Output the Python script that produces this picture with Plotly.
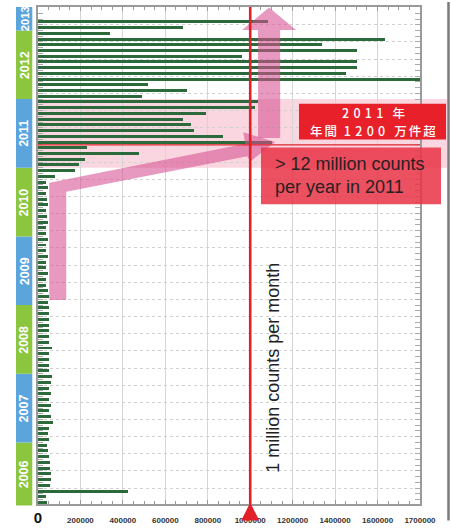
import re
import plotly.graph_objects as go

# Monthly counts, February 2006 through February 2013
start_year, start_month = 2006, 2
counts = [
    # 2006 (Feb-Dec)
    44000, 38000, 426000, 56000, 63000, 63000, 56000, 56000, 53000, 47000, 44000,
    # 2007
    53000, 47000, 53000, 70000, 63000, 53000, 63000, 50000, 59000, 53000, 59000, 66000,
    # 2008
    53000, 53000, 53000, 53000, 66000, 53000, 53000, 52000, 52000, 52000, 53000, 52000,
    # 2009
    45000, 52000, 45000, 39000, 39000, 45000, 39000, 39000, 45000, 39000, 39000, 45000,
    # 2010
    39000, 39000, 45000, 42000, 39000, 45000, 42000, 39000, 45000, 39000, 81000, 173000,
    # 2011
    191000, 221000, 477000, 231000, 1101000, 871000, 737000, 722000, 681000, 791000, 1021000, 1038000,
    # 2012
    488000, 701000, 519000, 1800000, 1449000, 1501000, 1501000, 963000, 1501000, 1338000, 1633000, 340000,
    # 2013 (Jan-Feb)
    681000, 1084000,
]

years = [2006, 2007, 2008, 2009, 2010, 2011, 2012, 2013]
year_colors = ["#8cc63f", "#5ba4dc", "#8cc63f", "#5ba4dc",
               "#8cc63f", "#5ba4dc", "#8cc63f", "#5ba4dc"]

x_tickvals = [0, 200000, 400000, 600000, 800000, 1000000, 1200000, 1400000, 1600000, 1800000]
x_ticktext = ["0", "200000", "400000", "600000", "800000", "1000000",
              "1200000", "1400000", "1600000", "1700000"]

threshold = 1000000
threshold_label = "1 million counts per month"
box_jp = ["2011 年", "年間 1200 万件超"]
box_en = ["> 12 million counts", "per year in 2011"]
highlight_year = 2011
jump_after_month = 4   # line drawn between April and May 2011

# ---------------------------------------------------------------------------
W, H = 451, 531
L, R, T, B = 38, 31, 5, 17
PW, PH = W - L - R, H - T - B
X_MAX = 1800000
Y_RANGE = [-0.27, 86.6]


def px_x(px):
    return (px - L) / PW


def px_y(py):
    return (H - B - py) / PH


def data_y_to_paper(v):
    return (v - Y_RANGE[0]) / (Y_RANGE[1] - Y_RANGE[0])


def month_index(year, month):
    return (year - start_year) * 12 + (month - start_month)


def spaced(text, base=2.0, digits=4.3):
    """Tracked lettering: wide spacing on digit runs, lighter elsewhere."""
    body = re.sub(r"(\d+)", rf'<span style="letter-spacing:{digits}px">\1</span>', text)
    return f'<span style="letter-spacing:{base}px">{body}</span>'


idx = list(range(len(counts)))
labels = []
for i in idx:
    m = start_month - 1 + i
    labels.append(f"{start_year + m // 12}-{m % 12 + 1:02d}")

fig = go.Figure(go.Bar(
    x=counts, y=idx, orientation="h", width=0.52,
    marker=dict(color="#2c6a3b", line=dict(width=0)),
    customdata=labels, hovertemplate="%{customdata}: %{x}<extra></extra>",
))

shapes = []
annotations = []

# highlighted year band (light pink), drawn under the grid
y_lo = month_index(highlight_year, 1) - 0.5
y_hi = month_index(highlight_year + 1, 1) - 0.5
shapes.append(dict(type="rect", xref="paper", yref="y", x0=0, x1=px_x(447),
                   y0=y_lo, y1=y_hi, line=dict(width=0),
                   fillcolor="rgba(240,140,170,0.36)", layer="below"))

# year boxes on the left (paper coordinates so nothing is clipped)
for yr, col in zip(years, year_colors):
    y0 = data_y_to_paper(max(month_index(yr, 1) - 0.5, Y_RANGE[0]))
    y1 = data_y_to_paper(min(month_index(yr + 1, 1) - 0.5, Y_RANGE[1]))
    if yr == years[0]:
        y0 = px_y(515.5)
    box_px = (y1 - y0) * PH
    size = min(12.5, box_px / 2.15)
    shapes.append(dict(type="rect", xref="paper", yref="paper", x0=px_x(16), x1=px_x(32.3),
                       y0=y0, y1=y1, line=dict(width=0), fillcolor=col, layer="above"))
    annotations.append(dict(x=px_x(24.4), y=(y0 + y1) / 2, xref="paper", yref="paper",
                            text=str(yr), textangle=-90, showarrow=False,
                            xanchor="center", yanchor="middle",
                            font=dict(family="Liberation Sans", size=size, color="#ffffff",
                                      weight="bold")))

arrow_fill = "rgba(214,80,145,0.58)"
# bent arrow: rising from the flat years and turning toward 2011
bent = [(53000, 35.4), (53000, 55.9), (977000, 62.7), (967000, 64.7),
        (1118000, 63.0), (1000000, 59.6), (986000, 60.5), (133000, 54.3), (133000, 35.4)]
shapes.append(dict(type="path", xref="x", yref="y", layer="above", line=dict(width=0),
                   fillcolor=arrow_fill,
                   path="M " + " L ".join(f"{a},{b}" for a, b in bent) + " Z"))
# upward arrow through 2012
up = [(1037000, 63.7), (1037000, 82.6), (962000, 82.6), (1089000, 86.5),
      (1216000, 82.6), (1141000, 82.6), (1141000, 63.7)]
shapes.append(dict(type="path", xref="x", yref="y", layer="above", line=dict(width=0),
                   fillcolor=arrow_fill,
                   path="M " + " L ".join(f"{a},{b}" for a, b in up) + " Z"))

# line marking the jump in 2011
y_jump = month_index(highlight_year, jump_after_month) + 0.5
shapes.append(dict(type="line", xref="paper", yref="y", x0=0, x1=1, y0=y_jump, y1=y_jump,
                   line=dict(color="#e3262e", width=1.4), layer="above"))

# one-million threshold line with marker triangle at its foot
shapes.append(dict(type="line", xref="x", yref="paper", x0=threshold, x1=threshold,
                   y0=0, y1=1, line=dict(color="#e3202a", width=2.6), layer="above"))
half = 9 * X_MAX / PW
shapes.append(dict(type="path", xref="x", yref="paper", layer="above", line=dict(width=0),
                   fillcolor="#e3202a",
                   path=f"M {threshold - half},{px_y(531)} L {threshold},{px_y(512.5)} "
                        f"L {threshold + half},{px_y(531)} Z"))
annotations.append(dict(x=threshold, y=23.5, xref="x", yref="y", xshift=22.5,
                        text=threshold_label, textangle=-90, showarrow=False,
                        font=dict(family="Liberation Sans", size=18, color="#222222")))

# Japanese caption box
shapes.append(dict(type="rect", xref="paper", yref="paper", x0=px_x(299), x1=px_x(446),
                   y0=px_y(140.7), y1=px_y(104), line=dict(width=0),
                   fillcolor="#e8202a", layer="above"))
for txt, cy in zip(box_jp, [113.2, 131.5]):
    annotations.append(dict(x=px_x(374), y=px_y(cy), xref="paper", yref="paper",
                            text=spaced(txt), showarrow=False, borderpad=0,
                            xanchor="center", yanchor="middle",
                            font=dict(family="Noto Sans CJK JP", size=12.5, color="white",
                                      weight=500)))

# English caption box
shapes.append(dict(type="rect", xref="paper", yref="paper", x0=px_x(261), x1=px_x(441),
                   y0=px_y(207), y1=px_y(149), line=dict(width=0),
                   fillcolor="rgba(232,52,70,0.86)", layer="above"))
annotations.append(dict(x=px_x(273), y=px_y(178), xref="paper", yref="paper",
                        text="<br>".join(box_en), showarrow=False, xanchor="left",
                        yanchor="middle", align="left",
                        font=dict(family="Liberation Sans", size=18, color="#2a1f22")))

# page edge on the right
shapes.append(dict(type="line", xref="paper", yref="paper", x0=px_x(448.5), x1=px_x(448.5),
                   y0=px_y(0), y1=px_y(531), line=dict(color="#7a7a7a", width=2.5)))

ticktext = ['<span style="font-size:15px;color:#111"><b>' + x_ticktext[0] + '</b></span>'] + \
           [f"<b>{t}</b>" for t in x_ticktext[1:]]

fig.update_layout(
    width=W, height=H, margin=dict(l=L, r=R, t=T, b=B),
    paper_bgcolor="white", plot_bgcolor="white",
    showlegend=False, bargap=0, shapes=shapes, annotations=annotations,
    xaxis=dict(range=[0, X_MAX], tickmode="array", tickvals=x_tickvals, ticktext=ticktext,
               tickfont=dict(family="Liberation Sans", size=8, color="#333333"),
               ticks="inside", ticklen=4, tickcolor="#9a9a9a", ticklabelstandoff=8,
               showgrid=True, gridcolor="#d6d6d6", gridwidth=1,
               minor=dict(dtick=50000, tick0=0, ticks="inside", ticklen=3,
                          tickcolor="#9a9a9a", showgrid=False),
               showline=True, linecolor="#9a9a9a", linewidth=1.6, mirror="ticks",
               zeroline=False, fixedrange=True),
    yaxis=dict(range=Y_RANGE, tickmode="linear", tick0=2.5, dtick=3,
               showticklabels=False, ticks="inside", ticklen=5, tickcolor="#aaaaaa",
               showgrid=True, gridcolor="#d0d0d0", griddash="dot", gridwidth=1,
               minor=dict(tick0=0.5, dtick=1, ticks="inside", ticklen=5,
                          tickcolor="#aaaaaa", showgrid=False),
               showline=True, linecolor="#9a9a9a", linewidth=1.6, mirror="ticks",
               zeroline=False, fixedrange=True),
)

fig.write_html("out.html")
